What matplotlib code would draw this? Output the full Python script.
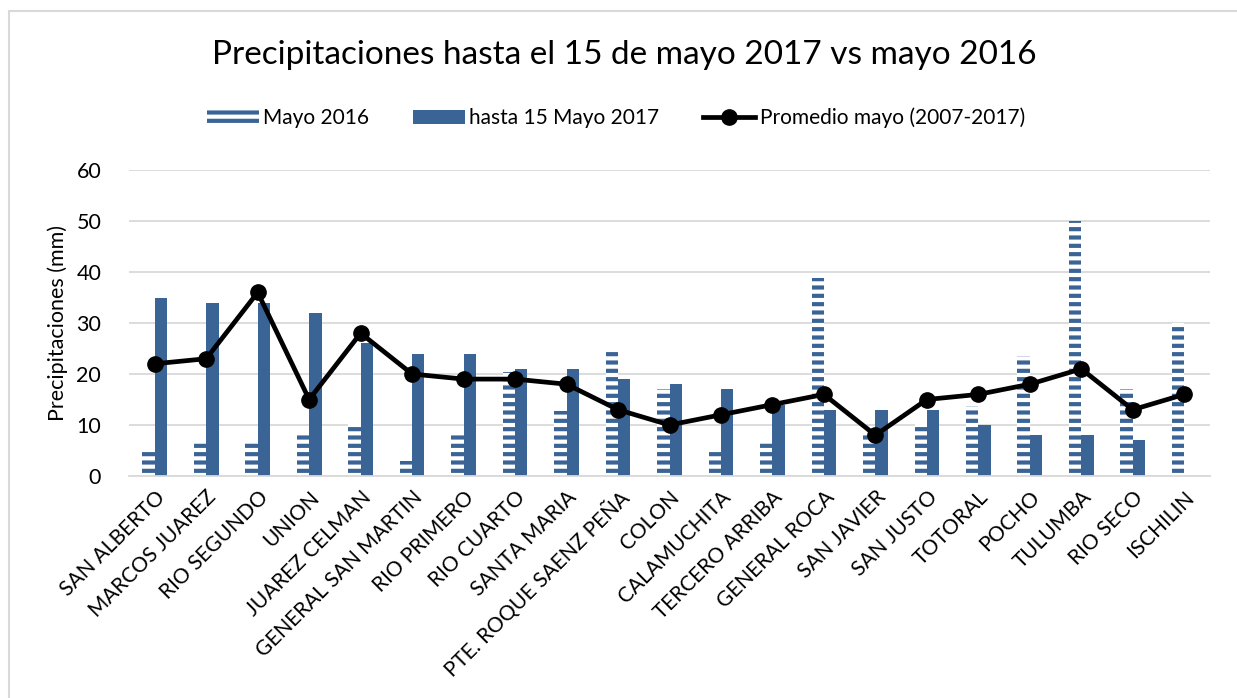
import matplotlib
matplotlib.use("Agg")
import matplotlib.pyplot as plt
import numpy as np
from matplotlib.lines import Line2D
from matplotlib.patches import Patch, Rectangle

categories = ["SAN ALBERTO", "MARCOS JUAREZ", "RIO SEGUNDO", "UNION", "JUAREZ CELMAN",
              "GENERAL SAN MARTIN", "RIO PRIMERO", "RIO CUARTO", "SANTA MARIA",
              "PTE. ROQUE SAENZ PEÑA", "COLON", "CALAMUCHITA", "TERCERO ARRIBA",
              "GENERAL ROCA", "SAN JAVIER", "SAN JUSTO", "TOTORAL", "POCHO",
              "TULUMBA", "RIO SECO", "ISCHILIN"]
mayo_2016 = [5.5, 7, 7, 8, 10.2, 3, 8.7, 20.3, 12.8, 25, 17, 5.5, 7, 38.8, 8.7, 10.2, 13.8, 23.5, 50, 17, 30]
hasta_2017 = [35, 34, 34, 32, 26, 24, 24, 21, 21, 19, 18, 17, 14, 13, 13, 13, 10, 8, 8, 7, 0]
promedio = [22, 23, 36, 15, 28, 20, 19, 19, 18, 13, 10, 12, 14, 16, 8, 15, 16, 18, 21, 13, 16]
yticks = [0, 10, 20, 30, 40, 50, 60]

FONT = ["Lato", "DejaVu Sans"]
plt.rcParams["font.family"] = FONT
plt.rcParams["hatch.linewidth"] = 3.0
plt.rcParams["hatch.color"] = "#3A6496"

blue = "#3A6496"
W, H = 1237, 698
fig = plt.figure(figsize=(W / 100, H / 100), dpi=100)
fig.patches.append(Rectangle((9 / W, -0.05), 1.0, 1.05 - 11 / H, transform=fig.transFigure,
                             fill=False, edgecolor="#D9D9D9", linewidth=1.5))

left, right = 129, 1210
bottom, top = 476, 170
ax = fig.add_axes([left / W, 1 - bottom / H, (right - left) / W, (bottom - top) / H])

x = np.arange(len(categories))
bw = 0.24
ax.bar(x - bw / 2, mayo_2016, width=bw, facecolor="white", hatch="--",
       edgecolor="#3A6496", linewidth=0, zorder=2)
ax.bar(x + bw / 2, hasta_2017, width=bw, color=blue, zorder=2)
ax.plot(x, promedio, color="black", linewidth=3.4, marker="o", markersize=11, zorder=3)

ax.set_xlim(-0.5, len(categories) - 0.5)
ax.set_ylim(0, 60)
ax.set_yticks(yticks)
ax.set_yticklabels([str(v) for v in yticks], fontsize=15.5)
ax.grid(axis="y", color="#D9D9D9", linewidth=1.3, zorder=0)
ax.set_axisbelow(True)
for s in ["top", "right", "left"]:
    ax.spines[s].set_visible(False)
ax.spines["bottom"].set_color("#D9D9D9")
ax.spines["bottom"].set_linewidth(1.3)
ax.tick_params(axis="both", length=0)
ax.tick_params(axis="y", pad=20)
ax.set_xticks(x)
ax.set_xticklabels(categories, rotation=45, ha="right", rotation_mode="anchor", fontsize=15)
ax.tick_params(axis="x", pad=8)
ax.set_ylabel("Precipitaciones (mm)", fontsize=15.5, labelpad=6)

fig.text(624 / W, 1 - 55 / H, "Precipitaciones hasta el 15 de mayo 2017 vs mayo 2016",
         ha="center", va="center", fontsize=24)

handles = [Patch(facecolor="white", hatch="--", edgecolor="#3A6496", linewidth=0),
           Patch(facecolor=blue),
           Line2D([0], [0], color="black", linewidth=3.4, marker="o", markersize=11)]
labels = ["Mayo 2016", "hasta 15 Mayo 2017", "Promedio mayo (2007-2017)"]
fig.legend(handles, labels, loc="center", bbox_to_anchor=(616 / W, 1 - 118 / H), ncol=3,
           frameon=False, fontsize=15, handlelength=2.5, handletextpad=0.2, columnspacing=2.1)

fig.savefig("out.png", dpi=100)
